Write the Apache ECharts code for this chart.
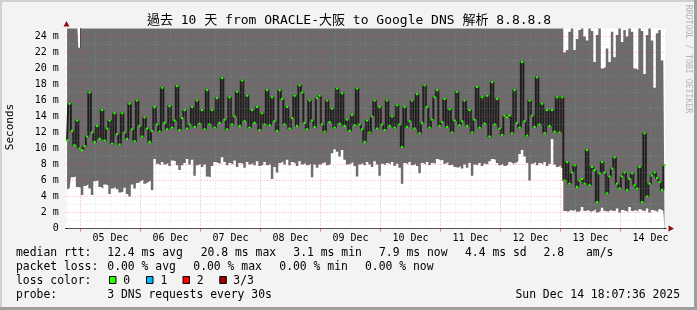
<!DOCTYPE html>
<html><head><meta charset="utf-8">
<script src="https://cdn.jsdelivr.net/npm/echarts@6/dist/echarts.min.js"></script>
<style>html,body{margin:0;padding:0;background:#f3f3f3}#c{width:697px;height:310px}</style>
</head><body><div id="c"></div>
<script>
const titleText = '過去 10 天 from ORACLE-大阪 to Google DNS 解析 8.8.8.8';
const yAxisName = 'Seconds';
const watermark = 'RRDTOOL / TOBI OETIKER';
// hours relative to 05 Dec 00:00
const startHour = -5.8733;   // Dec 4 18:07:36
const endHour = 234.1267;    // Dec 14 18:07:36
const dayLabels = ['05 Dec','06 Dec','07 Dec','08 Dec','09 Dec','10 Dec','11 Dec','12 Dec','13 Dec','14 Dec'];
const dayLabelHours = [12,36,60,84,108,132,156,180,204,228];
const dayBoundaryHours = [0,24,48,72,96,120,144,168,192,216];
const sixHourHours = [6,12,18,30,36,42,54,60,66,78,84,90,102,108,114,126,132,138,150,156,162,174,180,186,198,204,210,222,228,234];
const yMajor = [2,4,6,8,10,12,14,16,18,20,22,24];
const yMinor = [1,3,5,7,9,11,13,15,17,19,21,23];

// hourly median rtt (ms), from Dec 4 18:37 onward
const median = [
 11.0,15.6,12.2,10.4,13.5,10.0,9.8,10.3,11.5,17.0,
 12.0,10.8,12.8,11.2,14.8,11.0,12.5,13.5,10.6,14.4,
 11.8,10.5,14.4,12.0,11.2,15.6,12.4,10.9,16.0,12.8,
 11.5,13.9,12.5,10.8,12.2,15.2,13.0,12.1,17.6,13.2,
 12.4,15.3,12.6,13.5,17.8,12.3,13.8,14.8,12.5,13.0,
 15.2,12.7,16.0,13.1,14.8,12.4,17.3,13.0,14.8,12.6,
 16.3,13.2,18.8,13.6,12.4,16.4,13.0,14.0,17.1,12.8,
 18.5,13.4,16.6,12.6,14.8,13.2,15.2,12.3,14.4,13.0,
 17.3,12.9,16.4,13.4,12.2,17.3,16.2,13.0,15.2,12.5,
 13.8,16.6,12.8,17.9,17.0,13.2,12.4,16.0,13.5,12.7,
 16.3,16.6,13.0,12.1,16.0,13.3,15.0,12.6,17.5,13.1,
 16.9,12.8,13.6,12.2,14.2,12.9,17.5,13.0,12.4,10.8,
 13.5,12.0,14.0,16.0,12.5,15.2,13.0,12.3,16.0,12.8,
 14.0,12.6,15.4,13.0,10.2,15.2,12.7,13.4,16.0,12.5,
 16.8,11.9,13.2,17.9,15.2,12.6,13.6,16.4,17.3,12.8,
 13.3,16.2,12.7,14.9,12.0,13.5,17.1,12.9,13.4,16.0,
 12.8,14.8,12.0,13.6,17.7,12.6,16.4,13.1,16.6,11.5,
 18.3,13.0,16.2,12.5,11.7,14.1,13.9,14.1,11.9,17.3,
 13.2,12.6,20.8,13.4,11.6,16.0,14.1,12.7,18.9,13.0,
 15.6,11.9,14.8,12.8,14.8,12.1,16.4,12.0,16.4,6.0,
 8.3,5.6,7.0,7.9,5.2,6.0,6.2,5.6,9.8,5.4,
 7.7,7.3,3.3,6.9,8.3,7.0,4.4,6.5,7.5,8.9,
 5.6,5.0,6.5,7.0,4.8,6.2,6.9,5.4,5.0,7.7,
 3.3,11.9,4.0,5.6,6.6,7.0,6.3,5.8,4.8,7.9
];
// hourly lowest ping (top of the white region)
const lowRtt = [
 4.9,5.0,6.4,6.5,5.2,5.1,4.2,5.3,5.5,5.0,
 4.2,5.9,6.0,5.2,5.0,5.5,5.4,4.3,5.0,5.2,
 4.9,4.5,4.6,5.1,4.3,4.0,5.5,5.0,5.7,5.9,
 6.1,5.6,5.8,6.0,4.8,8.7,8.1,7.9,8.3,8.0,
 8.2,7.8,8.5,8.4,7.9,7.3,7.9,8.2,8.7,8.0,
 8.6,6.6,7.9,8.1,7.7,8.0,6.5,6.4,7.8,8.3,
 8.2,8.1,8.9,8.3,7.9,8.2,8.0,8.5,7.7,8.2,
 8.1,7.6,8.3,8.0,8.2,7.9,8.4,7.8,8.0,8.3,
 7.9,8.1,6.2,7.7,7.0,8.2,8.4,8.0,8.6,7.9,
 8.3,8.1,7.8,8.4,8.0,8.2,7.9,8.1,6.4,8.0,
 7.6,8.0,8.2,8.3,7.9,8.1,9.4,9.9,9.6,9.0,
 9.8,8.6,8.0,8.1,8.3,7.8,6.5,8.0,8.2,7.9,
 8.3,8.0,7.7,8.4,8.0,6.6,8.1,7.9,8.2,8.0,
 8.3,7.8,8.1,7.6,5.6,8.2,8.0,8.3,7.9,8.1,
 7.8,6.9,8.2,8.0,8.3,7.9,8.2,8.1,8.7,8.5,
 8.6,8.1,8.3,7.9,8.0,7.7,7.6,7.8,7.5,8.0,
 7.6,8.2,6.6,8.0,7.9,8.2,7.8,8.1,8.0,8.4,
 8.7,8.6,8.2,7.9,8.1,7.8,8.0,8.3,8.1,8.2,
 8.4,9.3,9.8,9.0,8.2,6.0,8.1,8.3,7.9,8.2,
 8.0,8.3,7.8,8.1,11.2,8.0,7.7,7.9,7.6,2.2,
 2.1,2.3,2.2,2.4,2.1,2.2,2.7,2.2,2.3,2.1,
 2.2,2.4,2.0,2.2,2.6,2.2,2.1,2.3,2.2,2.2,
 2.5,2.0,2.3,2.2,2.1,2.7,2.2,2.3,2.1,2.4,
 2.2,2.2,2.5,2.0,2.3,2.2,2.1,2.4,2.2,2.3
];
// hourly highest ping (26 = above the top of the graph)
const highRtt = [
 26,26,26,26,26,22.6,26,26,26,26, 26,26,26,26,26,26,26,26,26,26,
 26,26,26,26,26,26,26,26,26,26, 26,26,26,26,26,26,26,26,26,26,
 26,26,26,26,26,26,26,26,26,26, 26,26,26,26,26,26,26,26,26,26,
 26,26,26,26,26,26,26,26,26,26, 26,26,26,26,26,26,26,26,26,26,
 26,26,26,26,26,26,26,26,26,26, 26,26,26,26,26,26,26,26,26,26,
 26,26,26,26,26,26,26,26,26,26, 26,26,26,26,26,26,26,26,26,26,
 26,26,26,26,26,26,26,26,26,26, 26,26,26,26,26,26,26,26,26,26,
 26,26,26,26,26,26,26,26,26,26, 26,26,26,26,26,26,26,26,26,26,
 26,26,26,26,26,26,26,26,26,26, 26,26,26,26,26,26,26,26,26,26,
 26,26,26,26,26,26,26,26,26,26, 26,26,26,26,26,26,26,26,26,22.0,
 22.3,24.6,26,22.3,23.7,24.8,26,24.0,23.5,26,
 24.7,20.8,24.2,26,20.0,20.2,22.5,20.8,24.6,21.4,
 24.2,26,23.3,24.8,24.0,26,24.6,20.0,19.8,26,
 24.7,19.3,24.2,26,23.5,17.6,24.4,24.8,21.0,20.6
];
const medianStats = ['median rtt:','12.4 ms avg','20.8 ms max','3.1 ms min','7.9 ms now','4.4 ms sd','2.8','am/s'];
const lossStats = ['packet loss:','0.00 % avg','0.00 % max','0.00 % min','0.00 % now'];
const lossColorLabels = ['loss color:','0','1','2','3/3'];
const lossColors = ['#26ff00','#00b8ff','#ff0000','#a00000'];
const probeText = ['probe:','3 DNS requests every 30s'];
const stampText = 'Sun Dec 14 18:07:36 2025';

const hours = median.map((_, i) => startHour + 0.5 + i);
const pts = arr => arr.map((v, i) => [hours[i], v]);

const MONO = "'DejaVu Sans Mono','Noto Sans CJK TC',monospace";
const majorStyle = {color: 'rgba(255,40,40,0.4)', width: 1, type: [1, 2]};
const minorStyle = {color: 'rgba(170,170,170,0.32)', width: 1, type: [1, 2]};

const gridLines = []
  .concat(sixHourHours.map(v => ({xAxis: v, lineStyle: minorStyle})))
  .concat(yMinor.map(v => ({yAxis: v, lineStyle: minorStyle})))
  .concat(dayBoundaryHours.map(v => ({xAxis: v, lineStyle: majorStyle})))
  .concat(yMajor.map(v => ({yAxis: v, lineStyle: majorStyle})));

function txt(x, y, t, opt) {
  return Object.assign({type: 'text', x: x, y: y, silent: true,
    style: Object.assign({text: t, fontFamily: MONO, fontSize: 11.4, fill: '#000', align: 'left', verticalAlign: 'middle'}, (opt && opt.style) || {})},
    opt && opt.rotation !== undefined ? {rotation: opt.rotation} : {});
}

const graphics = [
  {type: 'rect', shape: {x: 0, y: 0, width: 697, height: 2}, style: {fill: '#d0d0d0'}, silent: true},
  {type: 'rect', shape: {x: 0, y: 0, width: 2, height: 310}, style: {fill: '#d0d0d0'}, silent: true},
  {type: 'rect', shape: {x: 0, y: 307, width: 697, height: 3}, style: {fill: '#9e9e9e'}, silent: true},
  {type: 'rect', shape: {x: 694, y: 0, width: 3, height: 310}, style: {fill: '#9e9e9e'}, silent: true},
  txt(349, 21, titleText, {style: {fontSize: 13, align: 'center'}}),
  txt(10, 127, yAxisName, {rotation: Math.PI / 2, style: {fontSize: 11, align: 'center'}}),
  txt(688, 59, watermark, {rotation: -Math.PI / 2, style: {fontSize: 8.2, align: 'center', fill: '#b4b4b4'}}),
  {type: 'polygon', shape: {points: [[63.5, 26.5], [69.5, 26.5], [66.5, 21]]}, style: {fill: '#8b1010'}, silent: true},
  {type: 'polygon', shape: {points: [[668.5, 225.5], [668.5, 231.5], [674, 228.5]]}, style: {fill: '#8b1010'}, silent: true}
];
const l1x = [16, 107.3, 200.7, 293.3, 379, 465, 543.5, 586];
medianStats.forEach((t, i) => graphics.push(txt(l1x[i], 253.5, t)));
const l2x = [16, 107.3, 193.3, 279.3, 365];
lossStats.forEach((t, i) => graphics.push(txt(l2x[i], 267.5, t)));
const l3x = [16, 123.3, 160.5, 196.7, 233.3];
const boxX = [109.5, 146.5, 183, 219.8];
lossColorLabels.forEach((t, i) => graphics.push(txt(l3x[i], 281.5, t)));
lossColors.forEach((c, i) => graphics.push({type: 'rect', silent: true,
  shape: {x: boxX[i], y: 276.5, width: 6.5, height: 7}, style: {fill: c, stroke: '#000', lineWidth: 1}}));
graphics.push(txt(16, 295.5, probeText[0]));
graphics.push(txt(107.3, 295.5, probeText[1]));
graphics.push(txt(680, 295.5, stampText, {style: {align: 'right'}}));

const chart = echarts.init(document.getElementById('c'), null, {renderer: 'canvas'});
chart.setOption({
  animation: false,
  backgroundColor: '#f3f3f3',
  grid: {left: 65.817, right: 31.183, top: 28.5, bottom: 81.5, show: true, backgroundColor: '#ffffff', borderWidth: 0},
  xAxis: {
    type: 'value', min: startHour, max: endHour,
    axisLine: {show: true, onZero: false, lineStyle: {color: '#000', width: 1}},
    axisTick: {show: true, customValues: dayBoundaryHours, length: 3, lineStyle: {color: 'rgba(255,0,0,0.5)'}},
    axisLabel: {customValues: dayLabelHours, margin: 5, fontFamily: MONO, fontSize: 10, color: '#000',
      formatter: v => dayLabels[Math.round((v - 12) / 24)] || ''},
    splitLine: {show: false}
  },
  yAxis: {
    type: 'value', min: 0, max: 25, interval: 2,
    axisLine: {show: true, lineStyle: {color: '#444', width: 1}},
    axisTick: {show: false},
    axisLabel: {margin: 7, fontFamily: MONO, fontSize: 10, color: '#000',
      formatter: v => v > 24 ? '' : (v === 0 ? '0' : v + ' m')},
    splitLine: {show: false}
  },
  series: [
    {type: 'line', name: 'smoke', data: pts(highRtt), step: 'middle', symbol: 'none', silent: true, z: 1,
      lineStyle: {width: 0}, areaStyle: {color: '#6c6c6c', opacity: 1}},
    {type: 'line', name: 'min', data: pts(lowRtt), step: 'middle', symbol: 'none', silent: true, z: 2,
      lineStyle: {width: 0}, areaStyle: {color: '#ffffff', opacity: 1}},
    {type: 'line', name: 'grid', data: pts(lowRtt), symbol: 'none', silent: true, z: 3,
      lineStyle: {opacity: 0},
      markLine: {silent: true, symbol: ['none', 'none'], label: {show: false}, animation: false, data: gridLines}},
    {type: 'line', name: 'median', data: pts(median), step: 'middle', silent: true, z: 4,
      lineStyle: {color: '#1e1e1e', width: 2},
      symbol: 'rect', symbolSize: [2.5, 2], showSymbol: true, itemStyle: {color: '#26ff00'}}
  ],
  graphic: graphics
});
</script></body></html>
